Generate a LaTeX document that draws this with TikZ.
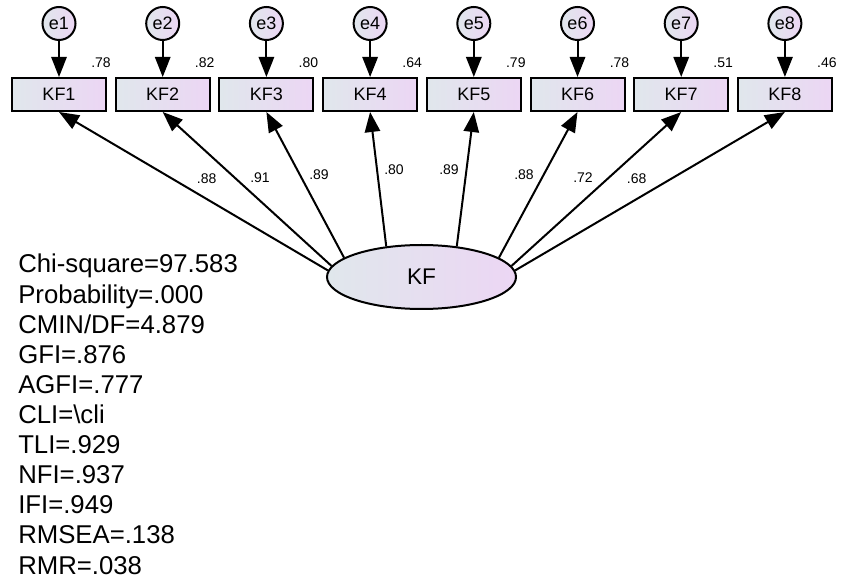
\documentclass[tikz,border=0pt]{standalone}
\usepackage{fontspec}
\setmainfont{Liberation Sans}
\usetikzlibrary{shapes.geometric,arrows.meta}
\definecolor{kfxam}{RGB}{224,231,236}
\definecolor{kftim}{RGB}{236,214,244}
\begin{document}
\begin{tikzpicture}[x=0.75pt,y=-0.75pt,
	bien/.style={draw,line width=1.5pt,left color=kfxam,right color=kftim,minimum width=70.5pt,minimum height=24.75pt,inner sep=0pt,font=\fontsize{13.5}{16}\selectfont},
	saiso/.style={circle,draw,line width=1.5pt,left color=kfxam,right color=kftim,minimum size=24.75pt,inner sep=0pt,font=\fontsize{13.5}{16}\selectfont},
	nhanto/.style={ellipse,draw,line width=1.5pt,left color=kfxam,right color=kftim,minimum width=141.75pt,minimum height=48pt,inner sep=0pt,font=\fontsize{17}{20}\selectfont},
	mui/.style={line width=1.5pt,-{Triangle[length=15pt,width=11.5pt]}},
	heso/.style={inner sep=0pt,font=\fontsize{10.5}{12}\selectfont},
	chiso/.style={anchor=base west,inner sep=0pt,font=\fontsize{19.3}{23}\selectfont}]
	\useasboundingbox (0,0) rectangle (841,580);
	%sai so
	\node[saiso] (e1) at (59,23.5) {e1};
	\node[saiso] (e2) at (162.7,23.5) {e2};
	\node[saiso] (e3) at (266.4,23.5) {e3};
	\node[saiso] (e4) at (370.1,23.5) {e4};
	\node[saiso] (e5) at (473.8,23.5) {e5};
	\node[saiso] (e6) at (577.5,23.5) {e6};
	\node[saiso] (e7) at (681.2,23.5) {e7};
	\node[saiso] (e8) at (784.9,23.5) {e8};
	%bien quan sat
	\node[bien] (KF1) at (59,94.5) {KF1};
	\node[bien] (KF2) at (162.7,94.5) {KF2};
	\node[bien] (KF3) at (266.4,94.5) {KF3};
	\node[bien] (KF4) at (370.1,94.5) {KF4};
	\node[bien] (KF5) at (473.8,94.5) {KF5};
	\node[bien] (KF6) at (577.5,94.5) {KF6};
	\node[bien] (KF7) at (681.2,94.5) {KF7};
	\node[bien] (KF8) at (784.9,94.5) {KF8};
	\draw[mui] (e1) -- (KF1);
	\draw[mui] (e2) -- (KF2);
	\draw[mui] (e3) -- (KF3);
	\draw[mui] (e4) -- (KF4);
	\draw[mui] (e5) -- (KF5);
	\draw[mui] (e6) -- (KF6);
	\draw[mui] (e7) -- (KF7);
	\draw[mui] (e8) -- (KF8);
	\node[heso,anchor=base east] (r1) at (111,68) {.78};
	\node[heso,anchor=base east] (r2) at (214.7,68) {.82};
	\node[heso,anchor=base east] (r3) at (318.4,68) {.80};
	\node[heso,anchor=base east] (r4) at (422.1,68) {.64};
	\node[heso,anchor=base east] (r5) at (525.8,68) {.79};
	\node[heso,anchor=base east] (r6) at (629.5,68) {.78};
	\node[heso,anchor=base east] (r7) at (733.2,68) {.51};
	\node[heso,anchor=base east] (r8) at (836.9,68) {.46};
	%nhan to
	\node[nhanto] (KF) at (421.5,277) {KF};
	\draw[mui] (KF.176) -- (KF1.south);
	\draw[mui] (KF.173) -- (KF2.south);
	\draw[mui] (KF.166) -- (KF3.south);
	\draw[mui] (KF.139) -- (KF4.south);
	\draw[mui] (KF.41) -- (KF5.south);
	\draw[mui] (KF.14) -- (KF6.south);
	\draw[mui] (KF.7) -- (KF7.south);
	\draw[mui] (KF.4) -- (KF8.south);
	\node[heso] (l1) at (206.7,179) {.88};
	\node[heso] (l2) at (260,177.5) {.91};
	\node[heso] (l3) at (319,175) {.89};
	\node[heso] (l4) at (394,169.5) {.80};
	\node[heso] (l5) at (449,169.5) {.89};
	\node[heso] (l6) at (524,175) {.88};
	\node[heso] (l7) at (583,177.5) {.72};
	\node[heso] (l8) at (636.7,179) {.68};
	%chi so
	\node[chiso] (s1) at (18,273) {Chi-square=97.583};
	\node[chiso] (s2) at (18,303.1) {Probability=.000};
	\node[chiso] (s3) at (18,333.2) {CMIN/DF=4.879};
	\node[chiso] (s4) at (18,363.3) {GFI=.876};
	\node[chiso] (s5) at (18,393.4) {AGFI=.777};
	\node[chiso] (s6) at (18,423.5) {CLI=\textbackslash cli};
	\node[chiso] (s7) at (18,453.6) {TLI=.929};
	\node[chiso] (s8) at (18,483.7) {NFI=.937};
	\node[chiso] (s9) at (18,513.8) {IFI=.949};
	\node[chiso] (s10) at (18,543.9) {RMSEA=.138};
	\node[chiso] (s11) at (18,574) {RMR=.038};
\end{tikzpicture}
\end{document}
